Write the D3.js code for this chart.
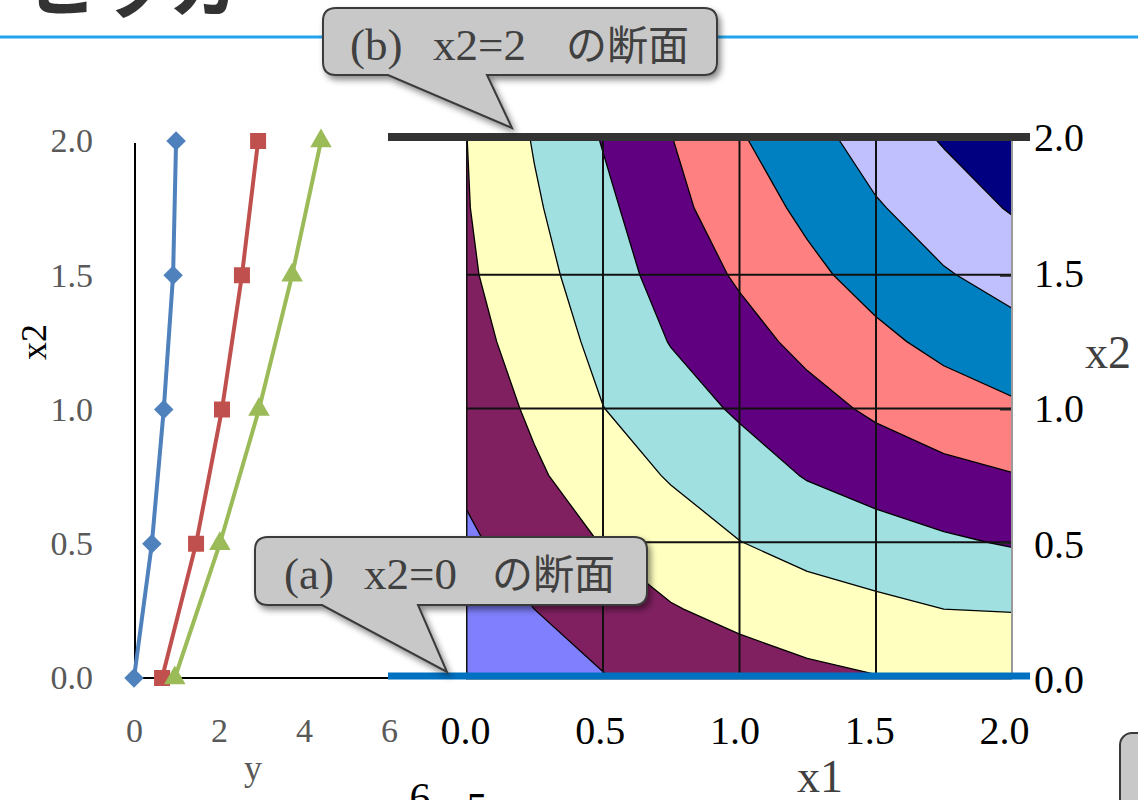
<!DOCTYPE html>
<html>
<head>
<meta charset="utf-8">
<script src="https://cdn.jsdelivr.net/npm/d3@7"></script>
<style>
  html, body { margin: 0; padding: 0; background: #fff; }
  svg { display: block; }
</style>
</head>
<body>
<div id="chart"></div>
<script>
// ---- data -------------------------------------------------------------
// left chart: y against x2, one series per x1 section
const x2Levels = [0, 0.5, 1.0, 1.5, 2.0];
const yAtX1Zero = [0, 0.42, 0.70, 0.92, 0.99];
const yAtX1One = [0.66, 1.46, 2.07, 2.54, 2.92];
const yAtX1Two = [0.96, 2.02, 2.94, 3.72, 4.40];
const yTicks = [0, 2, 4, 6];
const x2Ticks = [0, 0.5, 1.0, 1.5, 2.0];

const gridX1 = [0, 0.25, 0.5, 0.75, 1.0, 1.25, 1.5, 1.75, 2.0];
const gridX2 = [0, 0.25, 0.5, 0.75, 1.0, 1.25, 1.5, 1.75, 2.0];
const zRowX2_000 = [0.00, 0.26, 0.48, 0.70, 0.78, 0.90, 0.99, 1.05, 1.10];
const zRowX2_025 = [0.22, 0.50, 0.76, 0.97, 1.13, 1.28, 1.39, 1.50, 1.52];
const zRowX2_050 = [0.42, 0.72, 1.02, 1.26, 1.49, 1.67, 1.80, 1.93, 2.04];
const zRowX2_075 = [0.58, 0.93, 1.26, 1.54, 1.78, 2.03, 2.20, 2.37, 2.48];
const zRowX2_100 = [0.70, 1.08, 1.49, 1.79, 2.06, 2.33, 2.58, 2.77, 2.93];
const zRowX2_125 = [0.82, 1.22, 1.63, 2.02, 2.32, 2.63, 2.89, 3.13, 3.32];
const zRowX2_150 = [0.92, 1.34, 1.76, 2.20, 2.56, 2.89, 3.18, 3.46, 3.68];
const zRowX2_175 = [0.97, 1.44, 1.88, 2.36, 2.77, 3.10, 3.45, 3.76, 4.04];
const zRowX2_200 = [0.99, 1.53, 2.02, 2.48, 2.95, 3.30, 3.72, 4.03, 4.40];
const bandThresholds = [0, 0.5, 1.0, 1.5, 2.0, 2.5, 3.0, 3.5, 4.0];
const bandColors = ['#8080FF', '#802060', '#FFFFC0', '#A0E0E0', '#600080',
                    '#FF8080', '#0080C0', '#C0C0FF', '#000080'];
const x1Ticks = [0, 0.5, 1.0, 1.5, 2.0];

// ---- setup ------------------------------------------------------------
const W = 1138, H = 800;
const serif = '"Liberation Serif", "Noto Sans CJK JP", serif';

const svg = d3.select('#chart').append('svg')
  .attr('width', W).attr('height', H);

const defs = svg.append('defs');
const shadow = defs.append('filter').attr('id', 'shadow')
  .attr('x', '-10%').attr('y', '-10%').attr('width', '130%').attr('height', '140%');
shadow.append('feDropShadow')
  .attr('dx', 3).attr('dy', 4).attr('stdDeviation', 3)
  .attr('flood-color', '#000').attr('flood-opacity', 0.45);

// slide bits around the charts (cut off title, top rule)
svg.append('text')
  .attr('x', 24).attr('y', 11)
  .attr('font-family', '"Noto Sans CJK JP", sans-serif')
  .attr('font-weight', 700).attr('font-size', 72)
  .attr('fill', '#333')
  .text('ヒッカ');

svg.append('line')
  .attr('x1', 0).attr('x2', W).attr('y1', 37).attr('y2', 37)
  .attr('stroke', '#22A5EC').attr('stroke-width', 3);

// ---- left chart: line chart -------------------------------------------
const lx = d3.scaleLinear().domain([0, 6]).range([134, 389]);
const ly = d3.scaleLinear().domain([0, 2]).range([678, 141]);

const left = svg.append('g');

// axis lines
left.append('line')
  .attr('x1', lx(0) + 1).attr('x2', lx(0) + 1)
  .attr('y1', ly(2) + 2).attr('y2', ly(0))
  .attr('stroke', '#000').attr('stroke-width', 2);
left.append('line')
  .attr('x1', lx(0) + 1).attr('x2', lx(6))
  .attr('y1', ly(0)).attr('y2', ly(0))
  .attr('stroke', '#000').attr('stroke-width', 2);

const lyAxis = left.append('g')
  .attr('transform', `translate(${lx(0)},0)`)
  .call(d3.axisLeft(ly).tickValues(x2Ticks).tickFormat(d3.format('.1f')).tickSize(0).tickPadding(41));
const lxAxis = left.append('g')
  .attr('transform', `translate(0,${ly(0)})`)
  .call(d3.axisBottom(lx).tickValues(yTicks).tickFormat(d3.format('d')).tickSize(0).tickPadding(40));
[lyAxis, lxAxis].forEach(g => {
  g.select('.domain').remove();
  g.selectAll('text')
    .attr('font-family', serif).attr('font-size', 34).attr('fill', '#595959');
});
lxAxis.selectAll('text').attr('dy', '0.71em');

left.append('text')
  .attr('x', 253).attr('y', 780)
  .attr('text-anchor', 'middle')
  .attr('font-family', serif).attr('font-size', 36).attr('fill', '#595959')
  .text('y');
left.append('text')
  .attr('transform', 'translate(46,342) rotate(-90)')
  .attr('text-anchor', 'middle')
  .attr('font-family', serif).attr('font-size', 36).attr('fill', '#000')
  .text('x2');

const series = [
  { values: yAtX1Zero, color: '#4F81BD', symbol: d3.symbolSquare, size: 190, rotate: 45 },
  { values: yAtX1One, color: '#C0504D', symbol: d3.symbolSquare, size: 256, rotate: 0 },
  { values: yAtX1Two, color: '#9BBB59', symbol: d3.symbolTriangle, size: 200, rotate: 0 }
];
const line = d3.line().x(d => lx(d[0])).y(d => ly(d[1]));

series.forEach(s => {
  const pts = s.values.map((v, i) => [v, x2Levels[i]]);
  left.append('path')
    .attr('d', line(pts))
    .attr('fill', 'none')
    .attr('stroke', s.color).attr('stroke-width', 4);
  left.selectAll(null).data(pts).enter().append('path')
    .attr('d', d3.symbol().type(s.symbol).size(s.size))
    .attr('transform', d => `translate(${lx(d[0])},${ly(d[1])}) rotate(${s.rotate})`)
    .attr('fill', s.color);
});

// ---- right chart: filled contour --------------------------------------
const cx = d3.scaleLinear().domain([0, 2]).range([466, 1012]);
const cy = d3.scaleLinear().domain([0, 2]).range([676, 141]);

const zRows = [zRowX2_000, zRowX2_025, zRowX2_050, zRowX2_075, zRowX2_100,
               zRowX2_125, zRowX2_150, zRowX2_175, zRowX2_200];
const nx = gridX1.length, ny = gridX2.length;
const zValues = zRows.flat();
const step = gridX1[1] - gridX1[0];

defs.append('clipPath').attr('id', 'plotClip')
  .append('rect')
  .attr('x', cx(0)).attr('y', cy(2))
  .attr('width', cx(2) - cx(0)).attr('height', cy(0) - cy(2));

// d3.contours puts grid value i at coordinate i + 0.5
const toPlot = d3.geoTransform({
  point(x, y) {
    this.stream.point(cx((x - 0.5) * step), cy((y - 0.5) * step));
  }
});
const geoPath = d3.geoPath(toPlot);

const bands = d3.contours()
  .size([nx, ny])
  .thresholds(bandThresholds.slice(1))(zValues);

const right = svg.append('g');
const plot = right.append('g').attr('clip-path', 'url(#plotClip)');

plot.append('rect')
  .attr('x', cx(0)).attr('y', cy(2))
  .attr('width', cx(2) - cx(0)).attr('height', cy(0) - cy(2))
  .attr('fill', bandColors[0]);

plot.selectAll('path.band').data(bands).enter().append('path')
  .attr('class', 'band')
  .attr('d', geoPath)
  .attr('fill', (d, i) => bandColors[i + 1])
  .attr('stroke', '#000').attr('stroke-width', 1.3)
  .attr('stroke-linejoin', 'round');

// grid lines
plot.selectAll('line.gx').data(x1Ticks.slice(0, -1)).enter().append('line')
  .attr('x1', d => cx(d) + 0.5).attr('x2', d => cx(d) + 0.5)
  .attr('y1', cy(2)).attr('y2', cy(0))
  .attr('stroke', '#111').attr('stroke-width', 2);
plot.selectAll('line.gy').data(x2Ticks.slice(1, -1)).enter().append('line')
  .attr('x1', cx(0)).attr('x2', cx(2))
  .attr('y1', d => cy(d)).attr('y2', d => cy(d))
  .attr('stroke', '#111').attr('stroke-width', 2);
// little tick marks at the right edge
plot.selectAll('line.tk').data(x2Ticks.slice(1, -1)).enter().append('line')
  .attr('x1', cx(2) - 12).attr('x2', cx(2))
  .attr('y1', d => cy(d) + 1).attr('y2', d => cy(d) + 1)
  .attr('stroke', '#222').attr('stroke-width', 2);

// plot frame (right and bottom edges are grey)
right.append('line')
  .attr('x1', cx(2)).attr('x2', cx(2)).attr('y1', cy(2)).attr('y2', cy(0) + 3)
  .attr('stroke', '#9a9a9a').attr('stroke-width', 2);
right.append('line')
  .attr('x1', cx(0)).attr('x2', cx(2)).attr('y1', cy(0) + 3).attr('y2', cy(0) + 3)
  .attr('stroke', '#9a9a9a').attr('stroke-width', 2);

// section markers: x2 = 2 (dark) and x2 = 0 (blue)
right.append('line')
  .attr('x1', 388).attr('x2', 1030)
  .attr('y1', cy(2) - 4).attr('y2', cy(2) - 4)
  .attr('stroke', '#333').attr('stroke-width', 8);
right.append('line')
  .attr('x1', 388).attr('x2', 1030)
  .attr('y1', cy(0)).attr('y2', cy(0))
  .attr('stroke', '#0070C0').attr('stroke-width', 7);

// axes labels, offset a little like the original
const x1Label = d3.scaleLinear().domain([0, 2]).range([465, 1004]);
const x2Label = d3.scaleLinear().domain([0, 2]).range([680, 138]);

const rxAxis = right.append('g')
  .attr('transform', `translate(0,${cy(0)})`)
  .call(d3.axisBottom(x1Label).tickValues(x1Ticks).tickFormat(d3.format('.1f')).tickSize(0).tickPadding(40));
const ryAxis = right.append('g')
  .attr('transform', 'translate(1034,0)')
  .call(d3.axisRight(x2Label).tickValues(x2Ticks).tickFormat(d3.format('.1f')).tickSize(0).tickPadding(0));
[rxAxis, ryAxis].forEach(g => {
  g.select('.domain').remove();
  g.selectAll('text')
    .attr('font-family', serif).attr('font-size', 40).attr('fill', '#000');
});
rxAxis.selectAll('text').attr('dy', '0.71em');

right.append('text')
  .attr('x', 820).attr('y', 792)
  .attr('text-anchor', 'middle')
  .attr('font-family', serif).attr('font-size', 46).attr('fill', '#404040')
  .text('x1');
right.append('text')
  .attr('x', 1108).attr('y', 368)
  .attr('text-anchor', 'middle')
  .attr('font-family', serif).attr('font-size', 46).attr('fill', '#404040')
  .text('x2');

// ---- callouts -----------------------------------------------------------
function calloutPath(x0, y0, x1, y1, r, tail0, tail1, tip) {
  return `M${x0 + r},${y0} H${x1 - r} Q${x1},${y0} ${x1},${y0 + r} V${y1 - r}` +
    ` Q${x1},${y1} ${x1 - r},${y1} H${tail1} L${tip[0]},${tip[1]} L${tail0},${y1}` +
    ` H${x0 + r} Q${x0},${y1} ${x0},${y1 - r} V${y0 + r} Q${x0},${y0} ${x0 + r},${y0} Z`;
}

const callouts = [
  { box: [323, 8, 717, 75], tail: [388, 487], tip: [512, 128], label: ['(b)', 'x2=2', 'の断面'], xs: [350, 433, 566], base: 60 },
  { box: [255, 537, 647, 605], tail: [322, 418], tip: [447, 672], label: ['(a)', 'x2=0', 'の断面'], xs: [284, 364, 492], base: 589 }
];

callouts.forEach(c => {
  const g = svg.append('g');
  g.append('path')
    .attr('d', calloutPath(c.box[0], c.box[1], c.box[2], c.box[3], 13, c.tail[0], c.tail[1], c.tip))
    .attr('fill', '#C8C8C8')
    .attr('stroke', '#3a3a3a').attr('stroke-width', 2)
    .attr('filter', 'url(#shadow)');
  const t = g.append('text')
    .attr('y', c.base)
    .attr('fill', '#404040');
  c.label.forEach((s, i) => {
    t.append('tspan').attr('x', c.xs[i]).text(s)
      .attr('font-family', i === 2 ? '"Noto Sans CJK JP", sans-serif' : serif)
      .attr('font-size', i === 2 ? 41 : 45);
  });
});

// pieces of the next slide elements, cut off at the edge
svg.append('rect')
  .attr('x', 1120).attr('y', 733).attr('width', 60).attr('height', 100).attr('rx', 12)
  .attr('fill', '#C8C8C8').attr('stroke', '#3a3a3a').attr('stroke-width', 2);
svg.append('text')
  .attr('x', 420).attr('y', 812).attr('text-anchor', 'middle')
  .attr('font-family', serif).attr('font-size', 42).attr('fill', '#000')
  .text('6');
svg.append('text')
  .attr('x', 477).attr('y', 822).attr('text-anchor', 'middle')
  .attr('font-family', serif).attr('font-size', 42).attr('fill', '#000')
  .text('5');
</script>
</body>
</html>
